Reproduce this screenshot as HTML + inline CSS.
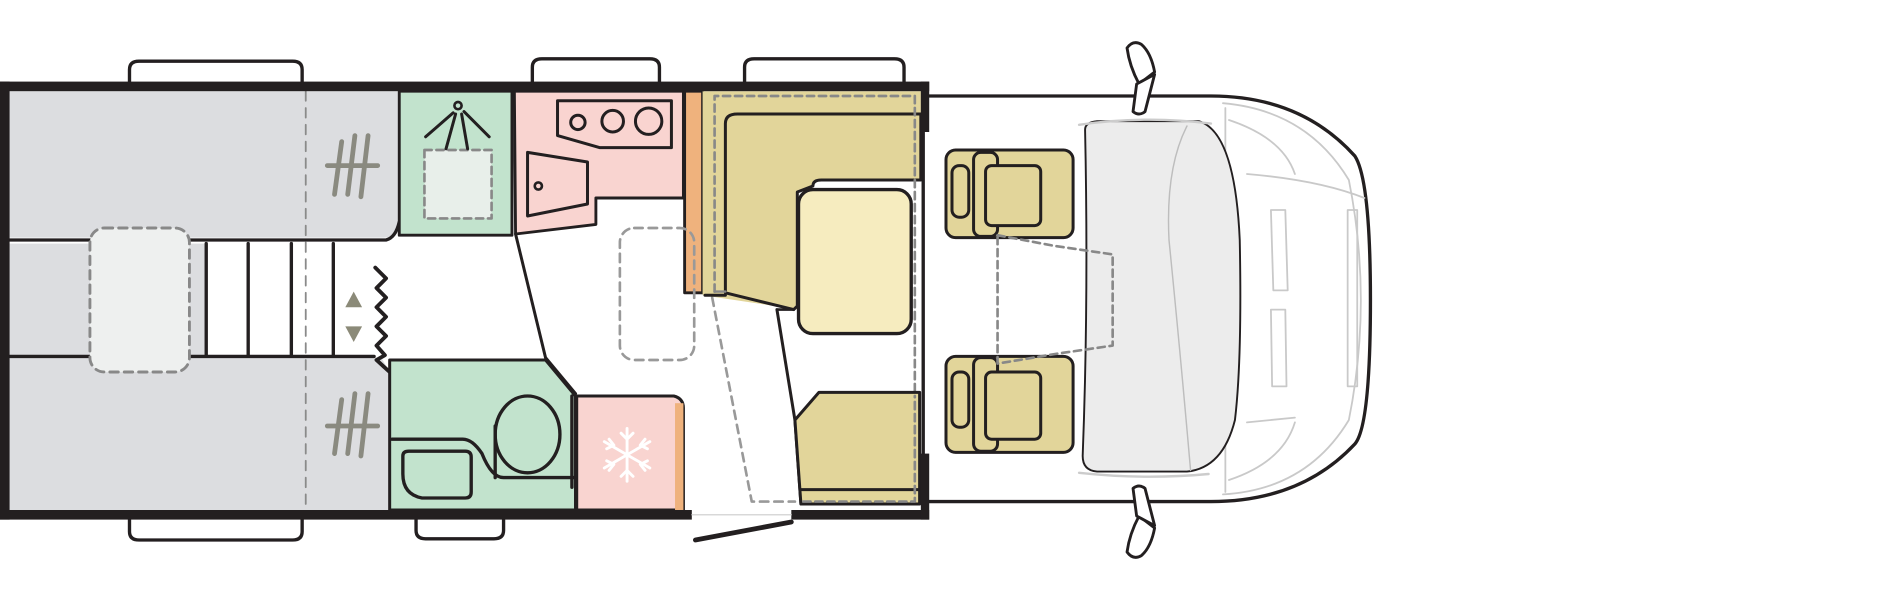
<!DOCTYPE html>
<html><head><meta charset="utf-8"><style>html,body{margin:0;padding:0;background:#fff}svg{display:block}</style></head>
<body>
<svg width="1880" height="600" viewBox="0 0 1568 500" preserveAspectRatio="none" xmlns="http://www.w3.org/2000/svg">
<g stroke-linejoin="round" stroke-linecap="round">
<!-- wheel arches -->
<g fill="#fff" stroke="#231f20" stroke-width="2.8">
<path d="M108 70 V58 Q108 51 116 51 H244 Q252 51 252 58 V70"/>
<path d="M444 70 V56 Q444 49 452 49 H542 Q550 49 550 56 V70"/>
<path d="M621 70 V56 Q621 49 629 49 H746 Q754 49 754 56 V70"/>
<path d="M108 432 V443 Q108 450 116 450 H244 Q252 450 252 443 V432"/>
<path d="M347 432 V442 Q347 449 355 449 H412 Q420 449 420 442 V432"/>
</g>
<!-- cab body -->
<path d="M770 80 H1010 Q1085 80 1130 130 Q1143 150 1143 250 Q1143 355 1130 370 Q1085 418 1010 418 H770 Z" fill="#fff" stroke="#231f20" stroke-width="2.8"/>
<g fill="none" stroke="#c9c9c9" stroke-width="1.5">
<path d="M1020 86 Q1090 92 1125 150 Q1135 200 1135 250 Q1135 300 1125 350 Q1090 408 1020 412"/>
<path d="M1022 90 V150 M1022 350 V410 M1040 145 Q1100 150 1138 165 M1060 175 H1072 L1074 242 H1062 Z M1060 258 H1072 L1073 322 H1061 Z M1124 175 H1132 V322 H1124 Z"/>
<path d="M1025 100 Q1070 115 1080 145 M1025 400 Q1070 385 1080 352 M1040 352 L1080 348"/>
</g>
<path d="M905 108 Q905 102 915 101 H1000 Q1030 110 1034 200 Q1036 300 1030 350 Q1020 390 990 393 H915 Q903 392 903 380 Q908 250 905 108 Z" fill="#ececec" stroke="#231f20" stroke-width="1.6"/>
<path d="M900 104 Q955 96 1010 103 M900 394 Q955 400 1008 395" fill="none" stroke="#ccc" stroke-width="2"/>
<path d="M990 105 Q972 140 975 200 Q985 300 993 392" fill="none" stroke="#bdbdbd" stroke-width="1.2"/>
<!-- mirrors -->
<g fill="#fff" stroke="#231f20" stroke-width="2.4">
<path d="M940 40 Q945 33 952 37 Q960 44 963 60 L950 70 Q942 55 940 40 Z"/>
<path d="M948 70 L963 62 L955 93 Q950 97 945 93 Z"/>
<path d="M940 460 Q945 467 952 463 Q960 456 963 440 L950 430 Q942 445 940 460 Z"/>
<path d="M948 430 L963 438 L955 407 Q950 403 945 407 Z"/>
</g>
<!-- cab seats -->
<g stroke="#231f20" stroke-width="2.5">
<rect x="789" y="125" width="106" height="73" rx="8" fill="#e2d59a"/>
<rect x="812" y="127" width="20" height="70" rx="6" fill="#e2d59a"/>
<rect x="822" y="138" width="46" height="50" rx="5" fill="#e2d59a"/>
<rect x="794" y="138" width="14" height="43" rx="6" fill="#e2d59a"/>
<rect x="789" y="297" width="106" height="80" rx="8" fill="#e2d59a"/>
<rect x="812" y="298" width="20" height="78" rx="6" fill="#e2d59a"/>
<rect x="822" y="310" width="46" height="56" rx="5" fill="#e2d59a"/>
<rect x="794" y="310" width="14" height="46" rx="6" fill="#e2d59a"/>
</g>
<path d="M832 196 L880 205 L928 212 V288 L880 295 L832 303 Z" fill="none" stroke="#888" stroke-width="2.2" stroke-dasharray="6 4"/>
<!-- left beds -->
<path d="M8 76 H333 V185 Q333 198 320 198 H8 Z" fill="#dcdde0"/>
<rect x="8" y="203" width="164" height="93" fill="#dcdde0"/>
<path d="M8 298 H318 L325 310 V425 H8 Z" fill="#dcdde0"/>
<path d="M8 200 H322 Q330 198 333 185 M8 297 H312" fill="none" stroke="#231f20" stroke-width="2.8"/>
<path d="M172 203 V296 M207 203 V296 M243 203 V296 M278 203 V296" stroke="#231f20" stroke-width="2.8"/>
<path d="M255 76 V425" stroke="#8a8a8a" stroke-width="1.5" stroke-dasharray="8 6"/>
<rect x="75" y="190" width="83" height="120" rx="12" fill="#eef0ef" stroke="#888" stroke-width="2.4" stroke-dasharray="7 5"/>
<g stroke="#8a8a80" stroke-width="4" fill="none">
<path d="M285 118 L279 162 M296 113 L290 162 M307 113 L301 164 M273 138 H315"/>
<path d="M285 333 L279 378 M296 328 L290 378 M307 328 L301 380 M273 355 H315"/>
</g>
<path d="M288 256 L295 243 L302 256 Z M288 272 L295 285 L302 272 Z" fill="#8b8a78"/>
<path d="M313 223 L322 232 L314 240 L322 248 L314 256 L322 264 L314 272 L322 280 L314 288 L321 296 L314 300 L325 310" fill="none" stroke="#231f20" stroke-width="3.2"/>
<!-- shower -->
<rect x="333" y="76" width="94" height="120" fill="#c2e3cd" stroke="#231f20" stroke-width="2.4"/>
<rect x="354" y="125" width="56" height="57" fill="#e8efea" stroke="#888" stroke-width="2.2" stroke-dasharray="6 4"/>
<circle cx="382" cy="88" r="3" fill="none" stroke="#231f20" stroke-width="2.2"/>
<path d="M378 94 L355 114 M380 95 L372 124 M385 95 L390 124 M387 93 L408 114" stroke="#231f20" stroke-width="2.5"/>
<!-- kitchen -->
<path d="M429 76 H570 V165 H497 V187 L430 195 Z" fill="#f9d4d0" stroke="#231f20" stroke-width="2.4"/>
<path d="M465 84 H560 V123 H500 L465 113 Z" fill="none" stroke="#231f20" stroke-width="2.5"/>
<circle cx="482" cy="102" r="6" fill="none" stroke="#231f20" stroke-width="2.5"/>
<circle cx="511" cy="101" r="9" fill="none" stroke="#231f20" stroke-width="2.5"/>
<circle cx="541" cy="101" r="11" fill="none" stroke="#231f20" stroke-width="2.5"/>
<path d="M440 127 L490 135 V170 L440 180 Z" fill="none" stroke="#231f20" stroke-width="2.5"/>
<circle cx="449" cy="155" r="3" fill="none" stroke="#231f20" stroke-width="2.2"/>
<rect x="571" y="76" width="15" height="168" fill="#efb27d" stroke="#231f20" stroke-width="2.4"/>
<!-- aisle lines -->
<path d="M430 195 L455 298 L480 328" fill="none" stroke="#231f20" stroke-width="2.5"/>
<path d="M648 258 L663 350 L668 420" fill="none" stroke="#231f20" stroke-width="2.5"/>
<rect x="517" y="190" width="62" height="110" rx="12" fill="none" stroke="#999" stroke-width="2.2" stroke-dasharray="7 5"/>
<path d="M594 248 L627 418 H663" fill="none" stroke="#999" stroke-width="2.2" stroke-dasharray="7 5"/>
<!-- dinette -->
<path d="M586 76 H768 V150 H666 V258 L586 246 Z" fill="#e2d59a"/>
<path d="M605 103 Q605 95 615 95 H768 V150 H685 Q678 150 678 155 L665 160 V255 L662 258 L605 244 Z" fill="#e2d59a" stroke="#231f20" stroke-width="2.5"/>
<path d="M588 246 H605" stroke="#231f20" stroke-width="2.5"/>
<path d="M596 243 V80 H763 V400" fill="none" stroke="#888" stroke-width="2.2" stroke-dasharray="6 4"/>
<path d="M596 243 H605" stroke="#888" stroke-width="2"/>
<path d="M662 258 L648 258" stroke="#231f20" stroke-width="2.2"/>
<rect x="666" y="158" width="94" height="120" rx="12" fill="#f6ecbf" stroke="#231f20" stroke-width="2.8"/>
<path d="M663 350 L683 327 H767 V420 H668 Z" fill="#e2d59a" stroke="#231f20" stroke-width="2.5"/>
<path d="M668 408 H767" stroke="#231f20" stroke-width="2.5"/>
<path d="M670 418 H763 V330" fill="none" stroke="#888" stroke-width="2.2" stroke-dasharray="6 4"/>
<!-- bathroom -->
<path d="M325 300 H455 L480 330 V425 H325 Z" fill="#c2e3cd" stroke="#231f20" stroke-width="2.5"/>
<ellipse cx="440" cy="362" rx="27" ry="32" fill="none" stroke="#231f20" stroke-width="2.8"/>
<path d="M327 366 H386 Q394 366 402 378 Q410 398 420 398 H480" fill="none" stroke="#231f20" stroke-width="2.8"/>
<path d="M413 355 V398 M477 330 V406" stroke="#231f20" stroke-width="2.8"/>
<path d="M336 380 Q336 376 341 376 H388 Q393 376 393 381 V410 Q393 415 388 415 H352 Q336 412 336 395 Z" fill="none" stroke="#231f20" stroke-width="2.8"/>
<!-- fridge -->
<path d="M481 330 H562 Q570 332 570 340 V425 H481 Z" fill="#f9d4d0" stroke="#231f20" stroke-width="2.5"/>
<rect x="563" y="336" width="7" height="89" fill="#efb27d"/>
<g stroke="#fff" stroke-width="2.4" fill="none">
<path d="M523 357 V401 M504 368 L542 390 M504 390 L542 368"/>
<path d="M518 361 L523 366 L528 361 M518 397 L523 392 L528 397 M506 374 L512 371 L508 366 M540 374 L534 371 L538 366 M506 384 L512 387 L508 392 M540 384 L534 387 L538 392"/>
</g>
<!-- walls -->
<g fill="#231f20">
<rect x="0" y="68" width="775" height="8"/>
<rect x="0" y="68" width="8" height="365"/>
<rect x="0" y="425" width="577" height="8"/>
<rect x="660" y="425" width="115" height="8"/>
<rect x="768" y="68" width="7" height="42"/>
<rect x="768" y="378" width="7" height="55"/>
</g>
<path d="M580 450 L660 435" stroke="#231f20" stroke-width="4"/>
<path d="M577 429 H660" stroke="#ccc" stroke-width="1"/>
</g>
</svg>
</body></html>
